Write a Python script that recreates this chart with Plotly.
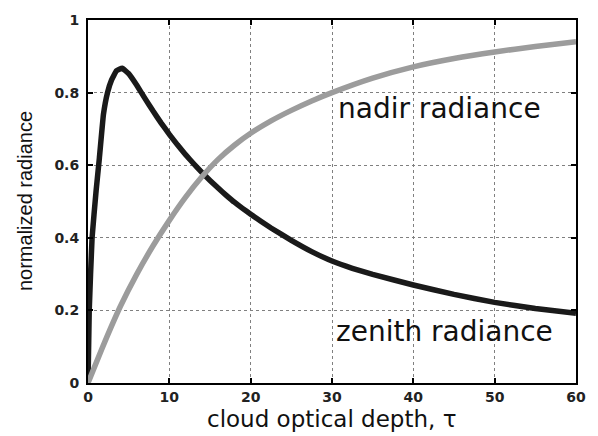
import plotly.graph_objects as go

# Cloud optical depth samples and normalized radiances
tau_zenith = [0, 0.15, 0.5, 1.0, 1.4, 1.9, 2.4, 2.9, 3.5, 4.2, 5, 6, 7, 8, 9, 10, 11, 12,
              13, 14, 15, 16, 17, 18, 19, 20, 22.5, 25, 27.5, 30, 32.5, 35, 40, 45, 50,
              55, 60]
zenith_radiance = [0, 0.2, 0.4, 0.53, 0.62, 0.74, 0.8, 0.835, 0.86, 0.867, 0.852, 0.82,
                   0.784, 0.749, 0.716, 0.685, 0.656, 0.629, 0.604, 0.58, 0.558, 0.537,
                   0.517, 0.498, 0.481, 0.465, 0.427, 0.393, 0.362, 0.336, 0.316, 0.299,
                   0.27, 0.244, 0.222, 0.205, 0.192]

tau_nadir = [0, 2, 4, 6, 8, 10, 12, 14, 16, 18, 20, 22.5, 25, 27.5, 30, 35, 40, 45, 50,
             55, 60]
nadir_radiance = [0, 0.11, 0.212, 0.30, 0.378, 0.448, 0.512, 0.568, 0.616, 0.655, 0.688,
                  0.722, 0.751, 0.777, 0.80, 0.84, 0.871, 0.894, 0.912, 0.927, 0.94]

x_ticks = [0, 10, 20, 30, 40, 50, 60]
y_ticks = [0, 0.2, 0.4, 0.6, 0.8, 1]
y_tick_labels = ["0", "0.2", "0.4", "0.6", "0.8", "1"]

fig = go.Figure()
fig.add_trace(go.Scatter(x=tau_zenith, y=zenith_radiance, mode="lines",
                         line=dict(color="#1a1a1a", width=5.5, shape="spline", smoothing=0.3),
                         showlegend=False))
fig.add_trace(go.Scatter(x=tau_nadir, y=nadir_radiance, mode="lines",
                         line=dict(color="#9c9c9c", width=5.5, shape="spline", smoothing=0.5),
                         showlegend=False))

tick_font = dict(family="DejaVu Sans", size=14, color="#222", weight="bold")
axis_common = dict(showline=True, linecolor="black", linewidth=2, mirror="allticks",
                   ticks="inside", ticklen=5, tickcolor="black", tickwidth=1.5,
                   showgrid=True, gridcolor="#808080", griddash="dot", gridwidth=1,
                   zeroline=False, tickfont=tick_font)

fig.update_xaxes(range=[0, 60], tickvals=x_ticks, ticktext=[str(v) for v in x_ticks],
                 **axis_common)
fig.update_yaxes(range=[0, 1], tickvals=y_ticks, ticktext=y_tick_labels,
                 ticklabelstandoff=4, **axis_common)

label_font = dict(family="DejaVu Sans", size=28, color="#111")
fig.add_annotation(text="nadir radiance", x=30.5, y=0.755, xref="x", yref="y",
                   xanchor="left", yanchor="middle", showarrow=False, font=label_font)
fig.add_annotation(text="zenith radiance", x=30.2, y=0.142, xref="x", yref="y",
                   xanchor="left", yanchor="middle", showarrow=False, font=label_font)

fig.add_annotation(text="cloud optical depth, τ", x=0.5, y=-0.1, xref="paper", yref="paper",
                   xanchor="center", yanchor="middle", showarrow=False,
                   font=dict(family="DejaVu Sans", size=23, color="#111"))
fig.add_annotation(text="normalized radiance", x=-0.13, y=0.5, xref="paper", yref="paper",
                   xanchor="center", yanchor="middle", textangle=-90, showarrow=False,
                   font=dict(family="Liberation Sans", size=20, color="#111"))

fig.update_layout(width=598, height=436, margin=dict(l=88, r=18, t=15, b=53),
                  plot_bgcolor="white", paper_bgcolor="white")

fig.write_html("out.html")
